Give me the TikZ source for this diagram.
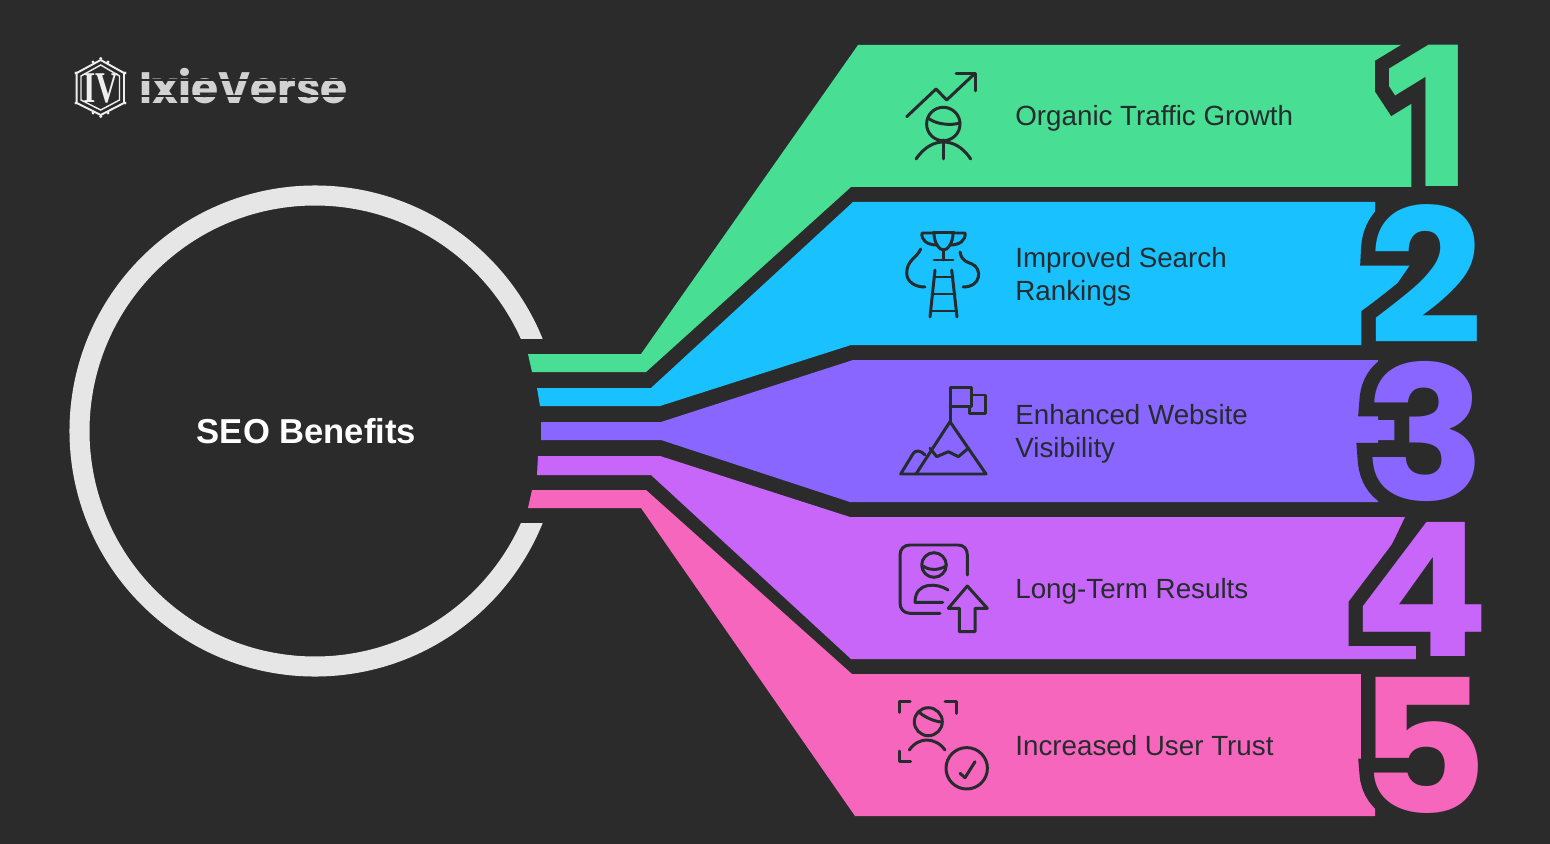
\documentclass[tikz,border=0pt]{standalone}
\usepackage{fontspec}
\setmainfont{Liberation Sans}
\newfontfamily\numfont{Poppins Bold}
\newfontfamily\numhalo[FakeBold=15]{Poppins Bold}
\newfontfamily\onefont{Fira Sans Bold}
\newfontfamily\onehalo[FakeBold=14]{Fira Sans Bold}
\newfontfamily\logofont{Poppins Bold}
\newfontfamily\markfont{Liberation Serif Bold}
\usetikzlibrary{positioning}
\definecolor{bgdark}{HTML}{2B2B2B}
\definecolor{ringgray}{HTML}{E6E6E6}
\definecolor{logogray}{HTML}{D2D2D2}
\definecolor{markwhite}{HTML}{EEEEEE}
\definecolor{inkdark}{HTML}{262C2E}
\definecolor{bandgreen}{HTML}{48DE94}
\definecolor{bandblue}{HTML}{1AC1FF}
\definecolor{bandviolet}{HTML}{8866FF}
\definecolor{bandlilac}{HTML}{C766F8}
\definecolor{bandpink}{HTML}{F766BD}
\tikzstyle{label} = [anchor=base west, inner sep=0pt, align=left, text=inkdark, font=\fontsize{15.8}{18.7}\selectfont]
\tikzstyle{icon} = [draw=inkdark, line width=1.7pt, line cap=round, line join=round]
\tikzstyle{halo} = [inner sep=0pt, text=bgdark, font=\fontsize{106}{106}\numhalo, xscale=1.08, transform shape]
\tikzstyle{digit} = [inner sep=0pt, font=\fontsize{106}{106}\numfont, xscale=1.08, transform shape]
\begin{document}
\begin{tikzpicture}[x=0.02cm, y=-0.02cm]
\useasboundingbox (0,0) rectangle (1550,844);
\fill [bgdark] (0,0) rectangle (1550,844);
% ring and its gap
\draw [ringgray, line width=11.4pt] (315,431) circle (235.5);
\fill [bgdark] (500,339) rectangle (600,523);
% bands
\fill [bandgreen] (528,354) -- (641,354) -- (858,45) -- (1440,45) -- (1440,187) -- (851,187) -- (646,372) -- (532,372) -- cycle;
\fill [bandblue] (537,388) -- (651,388) -- (853,202) -- (1375,202) -- (1375,262) -- (1412,262) -- (1372,320) -- (1372,345) -- (851,345) -- (660,406) -- (540,406) -- cycle;
\fill [bandviolet] (541,422) -- (661,422) -- (853,360) -- (1378,360) -- (1378,420) -- (1395,420) -- (1395,440) -- (1378,440) -- (1378,502) -- (850,502) -- (661,440) -- (541,440) -- cycle;
\fill [bandlilac] (538,456) -- (660,456) -- (850,517) -- (1405,517) -- (1365,600) -- (1365,636) -- (1428,636) -- (1428,659) -- (851,659) -- (651,475) -- (537,475) -- cycle;
\fill [bandpink] (532,490) -- (646,490) -- (852,674) -- (1375,674) -- (1375,816) -- (855,816) -- (641,508) -- (528,508) -- cycle;
% big numbers
\begin{scope}
\clip (1375,40) rectangle (1500,200);
\node (halo1) [inner sep=0pt, text=bgdark, font=\fontsize{119}{119}\onehalo] at (1427,116) {1};
\end{scope}
\begin{scope}
\clip (1389,40) rectangle (1500,200);
\node (num1) [inner sep=0pt, text=bandgreen, font=\fontsize{119}{119}\onefont] at (1427,116) {1};
\end{scope}
\node (halo2) [halo] at (1426,274) {2};
\node (halo3) [halo] at (1425,431) {3};
\node (halo4) [halo] at (1422,589) {4};
\node (halo5) [halo] at (1423,745) {5};
\node (num2) [digit, text=bandblue] at (1426,274) {2};
\node (num3) [digit, text=bandviolet] at (1425,431) {3};
\node (num4) [digit, text=bandlilac] at (1422,589) {4};
\node (num5) [digit, text=bandpink] at (1423,745) {5};
% labels
\node (center) [text=white, font=\fontsize{19.7}{24}\selectfont\bfseries] at (306.5,431) {SEO Benefits};
\node (t1) [label] at (1015,126) {Organic Traffic Growth};
\node (t2) [label] at (1015,300) {Improved Search\\Rankings};
\node (t3) [label] at (1015,457) {Enhanced Website\\Visibility};
\node (t4) [label] at (1015,598) {Long-Term Results};
\node (t5) [label] at (1015,755) {Increased User Trust};
% icon 1
\draw [icon] (906.7,116.7) -- (936,89) -- (946.7,100) -- (975,73.3);
\draw [icon] (956,73.3) -- (975,73.3) -- (975,91);
\draw [icon] (943.3,124) circle (16.7);
\draw [icon] (928,118) .. controls (935,124) and (950,126) .. (960,123);
\draw [icon] (916,159) .. controls (925,146) and (935,142) .. (943.3,142) .. controls (952,142) and (962,146) .. (970.7,159);
\draw [icon] (943.3,140) -- (943.3,159);
% icon 2
\draw [icon] (933,232.7) -- (954,232.7);
\draw [icon] (934,233) .. controls (934,244) and (940,250) .. (943.5,250) .. controls (947,250) and (953,244) .. (953,233);
\draw [icon] (933,233) -- (922,233) .. controls (921,240) and (927,245) .. (937,245);
\draw [icon] (954,233) -- (965,233) .. controls (966,240) and (960,245) .. (950,245);
\draw [icon] (943.5,250) -- (943.5,260);
\draw [icon] (934,260) -- (953,260);
\draw [icon] (920.7,249) .. controls (917,258) and (906.7,260) .. (906.7,273) .. controls (906.7,282) and (915,287) .. (925,287);
\draw [icon] (960,252) .. controls (962,262) and (968,262) .. (972,264) .. controls (982,268) and (982,287) .. (963,287);
\draw [icon] (935,270) -- (930,317);
\draw [icon] (951.7,270) -- (957,317);
\draw [icon] (934,277) -- (953,277);
\draw [icon] (932,294) -- (955,294);
\draw [icon] (931,311) -- (956,311);
% icon 3
\draw [icon] (950,421.7) -- (950,387.7) -- (971.7,387.7) -- (971.7,406.7) -- (950,406.7);
\draw [icon] (971.7,395) -- (985,395) -- (985,413.3) -- (969.3,413.3) -- (969.3,406.7);
\draw [icon] (950,421.7) -- (986,474) -- (900.7,474) -- (913.3,453.3) .. controls (916,450) and (920,450) .. (925,455);
\draw [icon] (950,421.7) -- (916,474);
\draw [icon] (930,448.3) -- (936.7,456.7) -- (948.3,451.7) -- (958.3,456.7) -- (968.3,448.3);
% icon 4
\draw [icon] (967.3,575) -- (967.3,555) .. controls (967.3,549) and (964,545) .. (958,545) -- (910,545) .. controls (904,545) and (900,549) .. (900,555) -- (900,603) .. controls (900,609) and (904,613.3) .. (910,613.3) -- (940,613.3);
\draw [icon] (934,565) circle (12.3);
\draw [icon] (923,566) .. controls (928,570) and (938,571) .. (946,566);
\draw [icon] (948,590) .. controls (938,583) and (915,581) .. (915,602.3) -- (942.7,602.3);
\draw [icon] (967.3,586) -- (987.3,608.3) -- (975,608.3) -- (975,631.7) -- (959.3,631.7) -- (959.3,608.3) -- (948.3,608.3) -- cycle;
% icon 5
\draw [icon] (910,701.7) -- (899.3,701.7) -- (899.3,712.3);
\draw [icon] (945,701.7) -- (956,701.7) -- (956,713.3);
\draw [icon] (899.3,751) -- (899.3,761) -- (910.7,761);
\draw [icon] (928.3,721.7) circle (14);
\draw [icon] (920,713) .. controls (925,717) and (933,721) .. (941,722);
\draw [icon] (909.3,750) .. controls (914,743) and (921,740) .. (926.7,740) .. controls (933,740) and (940,743) .. (945,750);
\draw [icon] (966.7,768.3) circle (20.7);
\draw [icon] (960,773.3) -- (965,777.7) -- (975,761.7);
% logo
\draw [markwhite, line width=1.1pt] (100.7,60) -- (124,73) -- (124,103) -- (100.7,115) -- (76.7,103) -- (76.7,73) -- cycle;
\draw [markwhite, line width=0.8pt] (100.7,65) -- (119.5,76) -- (119.5,100) -- (100.7,110) -- (81,100) -- (81,76) -- cycle;
\foreach \dotx/\doty in {100.7/58.5, 93/62, 108/62, 125/73, 125/103, 76/73, 76/103, 100.7/116.5, 93/113, 108/113}
  \fill [markwhite] (\dotx,\doty) circle (1.6);
\node (mark) [text=markwhite, font=\fontsize{25}{25}\markfont, xscale=0.72, transform shape] at (100.7,88) {IV};
\node (brand) [anchor=west, inner sep=0pt, text=logogray, font=\fontsize{25}{25}\logofont] at (139,86) {IxieVerse};
\draw [bgdark, line width=1pt] (139,80) -- (347,80);
\draw [bgdark, line width=1pt] (139,96) -- (347,96);
\end{tikzpicture}
\end{document}
